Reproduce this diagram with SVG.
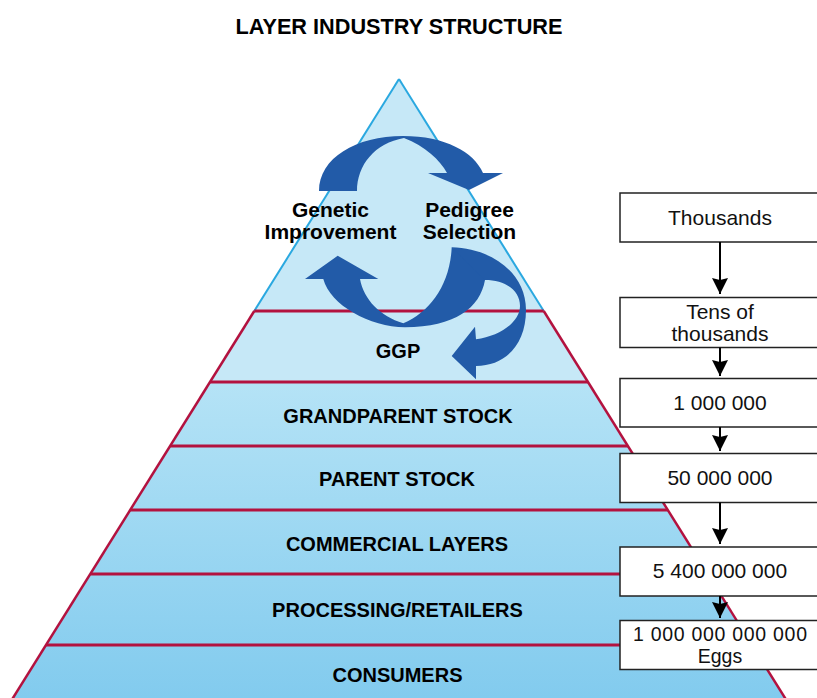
<svg xmlns="http://www.w3.org/2000/svg" width="817" height="698" viewBox="0 0 817 698">
<defs>
<linearGradient id="lowGrad" x1="0" y1="382" x2="0" y2="698" gradientUnits="userSpaceOnUse">
<stop offset="0" stop-color="#b5e3f6"/>
<stop offset="1" stop-color="#82cbee"/>
</linearGradient>
<marker id="ah" viewBox="0 0 16 16" markerWidth="16" markerHeight="16" refX="16" refY="8" orient="auto" markerUnits="userSpaceOnUse">
<path d="M0,0 L16,8 L0,16 L2,8 Z" fill="#000"/>
</marker>
<style>
.lbl{font-family:"Liberation Sans",Arial,sans-serif;font-weight:bold;font-size:20px;fill:#000;text-anchor:middle}
.cyc{font-family:"Liberation Sans",Arial,sans-serif;font-weight:bold;font-size:21px;fill:#000;text-anchor:middle}
.box{fill:#fff;stroke:#222;stroke-width:1.5}
.btx{font-family:"Liberation Sans",Arial,sans-serif;font-size:21px;fill:#111;text-anchor:middle}
.btx2{font-family:"Liberation Sans",Arial,sans-serif;font-size:19.5px;fill:#111;text-anchor:middle}
.red{stroke:#b3123f;stroke-width:3;fill:none}
.edge{stroke:#b3123f;stroke-width:2.5;fill:none}
.arr{fill:#225ba8}
.con{stroke:#000;stroke-width:2;fill:none;marker-end:url(#ah)}
</style>
</defs>
<rect width="817" height="698" fill="#fff"/>
<text x="399" y="34" font-family="Liberation Sans,Arial,sans-serif" font-weight="bold" font-size="21.7" text-anchor="middle" fill="#000">LAYER INDUSTRY STRUCTURE</text>

<g id="pyramid">
<polygon points="399,79 587.95,382 210.05,382" fill="#c6e8f7"/>
<polygon points="210.05,382 587.95,382 786.3,700 11.7,700" fill="url(#lowGrad)"/>
<line x1="399" y1="79" x2="254.3" y2="311" stroke="#2aa8e0" stroke-width="2"/>
<line x1="399" y1="79" x2="543.7" y2="311" stroke="#2aa8e0" stroke-width="2"/>
<line class="edge" x1="254.3" y1="311" x2="11.7" y2="700"/>
<line class="edge" x1="543.7" y1="311" x2="786.3" y2="700"/>
<line class="red" x1="254.3" y1="311" x2="543.7" y2="311"/>
<line class="red" x1="210" y1="382" x2="588" y2="382"/>
<line class="red" x1="170.1" y1="446" x2="627.9" y2="446"/>
<line class="red" x1="130.2" y1="510" x2="667.8" y2="510"/>
<line class="red" x1="90.3" y1="574" x2="707.7" y2="574"/>
<line class="red" x1="46" y1="645" x2="752" y2="645"/>
</g>

<g id="cycle-arrows">
<path class="arr" d="M319,191 C319,158 356,136 403,136 C445,136 474,152 483,173 L503,173 L469,190 L428,173 L447,173 C440,160 425,146 404,138 C375,143 357,165 357,191 Z"/>
<path class="arr" d="M337.7,255.7 L378.3,279 L360,279 C364,300 380,316 403.3,323.3 C430,312 450,285 451.7,247.3 L492,272 L485,280 C480,308 455,327 405,327.3 C370,327 330,305 323.3,279 L305,279 Z"/>
<path class="arr" d="M451.7,247.3 C490,248 526,272 526,310 C526,345 505,366 476,366 L476,379.3 L451.7,356 L475,326.7 L476,339.3 C500,336 520,322 520,306 C520,290 505,280 485,280 L451.7,247.3 Z"/>
</g>

<g id="n-genetic"><text class="cyc" x="330.5" y="216.7">Genetic</text><text class="cyc" x="330.5" y="239.3">Improvement</text></g>
<g id="n-pedigree"><text class="cyc" x="469.5" y="216.7">Pedigree</text><text class="cyc" x="469.5" y="239.3">Selection</text></g>
<g id="n-ggp"><text class="lbl" x="398" y="358">GGP</text></g>
<g id="n-gp"><text class="lbl" x="398" y="423">GRANDPARENT STOCK</text></g>
<g id="n-parent"><text class="lbl" x="397" y="486">PARENT STOCK</text></g>
<g id="n-commercial"><text class="lbl" x="397" y="551">COMMERCIAL LAYERS</text></g>
<g id="n-processing"><text class="lbl" x="397.5" y="616.5">PROCESSING/RETAILERS</text></g>
<g id="n-consumers"><text class="lbl" x="397.5" y="681.5">CONSUMERS</text></g>

<g id="b-thousands"><rect class="box" x="620" y="193" width="200" height="49"/><text class="btx" x="720" y="224.5">Thousands</text></g>
<g id="b-tens"><rect class="box" x="620" y="297.5" width="200" height="50"/><text class="btx" x="720" y="319.3">Tens of</text><text class="btx" x="720" y="340.7">thousands</text></g>
<g id="b-million"><rect class="box" x="620" y="378.5" width="200" height="48.5"/><text class="btx" x="720" y="410">1 000 000</text></g>
<g id="b-50m"><rect class="box" x="620" y="453.5" width="200" height="49"/><text class="btx" x="720" y="485">50 000 000</text></g>
<g id="b-5400m"><rect class="box" x="620" y="547" width="200" height="49"/><text class="btx" x="720" y="577.7">5 400 000 000</text></g>
<g id="b-eggs"><rect class="box" x="620" y="620.5" width="200" height="49"/><text class="btx2" x="720" y="640.5" textLength="174" lengthAdjust="spacing">1 000 000 000 000</text><text class="btx2" x="720" y="662.5">Eggs</text></g>

<g id="connectors">
<line class="con" x1="720" y1="242" x2="720" y2="294"/>
<line class="con" x1="720" y1="347.5" x2="720" y2="376"/>
<line class="con" x1="720" y1="427" x2="720" y2="451"/>
<line class="con" x1="720" y1="502.5" x2="720" y2="544"/>
<line class="con" x1="720" y1="596" x2="720" y2="618"/>
</g>
</svg>
